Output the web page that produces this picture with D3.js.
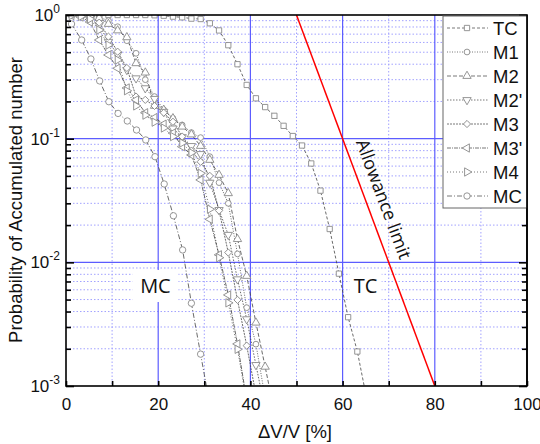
<!DOCTYPE html>
<html>
<head>
<meta charset="utf-8">
<script src="https://cdn.jsdelivr.net/npm/d3@7"></script>
<style>
body { margin: 0; background: #fff; }
text { font-family: "Liberation Sans", Arial, sans-serif; }
</style>
</head>
<body>
<svg></svg>
<script>
// --- data ---
const seriesNames = ['TC', 'M1', 'M2', "M2'", 'M3', "M3'", 'M4', 'MC'];

const tcX = [1.2, 3.2, 5.2, 7.2, 9.2, 11.2, 13.2, 15.2, 17.2, 19.2, 21.2, 23.2, 25.2, 27.2, 29.2, 31.2, 33.2, 35.2, 37.2, 39.2, 41.2, 43.2, 45.2, 47.2, 49.2, 51.2, 53.2, 55.2, 57.2, 59.2, 61.2, 63.2, 65.2];
const tcP = [1, 1, 1, 1, 1, 1, 1, 1, 1, 0.995, 0.987, 0.97, 0.958, 0.935, 0.928, 0.857, 0.75, 0.57, 0.40, 0.272, 0.212, 0.18, 0.153, 0.127, 0.105, 0.088, 0.063, 0.038, 0.0186, 0.0081, 0.0036, 0.0019, 0.0008];

const m1X = [1.2, 3.2, 5.2, 7.2, 9.2, 11.2, 13.2, 15.2, 17.2, 19.2, 21.2, 23.2, 25.2, 27.2, 29.2, 31.2, 33.2, 35.2, 37.2, 39.2, 41.2, 43.2];
const m1P = [0.995, 0.995, 0.991, 0.963, 0.899, 0.804, 0.62, 0.490, 0.30, 0.219, 0.171, 0.146, 0.129, 0.112, 0.102, 0.0715, 0.0441, 0.0300, 0.0117, 0.0043, 0.00218, 0.0008];

const m2X = [5.2, 7.2, 9.2, 11.2, 13.2, 15.2, 17.2, 19.2, 21.2, 23.2, 25.2, 27.2, 29.2, 31.2, 33.2, 35.2, 37.2, 39.2, 41.2, 43.2, 45.2];
const m2P = [0.991, 0.946, 0.846, 0.75, 0.66, 0.407, 0.342, 0.184, 0.171, 0.146, 0.125, 0.108, 0.0873, 0.0673, 0.0509, 0.0362, 0.0154, 0.00776, 0.00325, 0.00143, 0.00062];

const m2pX = [3.2, 5.2, 7.2, 9.2, 11.2, 13.2, 15.2, 17.2, 19.2, 21.2, 23.2, 25.2, 27.2, 29.2, 31.2, 33.2, 35.2, 37.2, 39.2, 41.2, 43.2];
const m2pP = [0.991, 0.928, 0.83, 0.608, 0.48, 0.36, 0.308, 0.256, 0.21, 0.165, 0.121, 0.103, 0.0873, 0.0752, 0.0441, 0.0265, 0.0167, 0.0073, 0.00347, 0.00148, 0.00064];

const m3X = [3.2, 5.2, 7.2, 9.2, 11.2, 13.2, 15.2, 17.2, 19.2, 21.2, 23.2, 25.2, 27.2, 29.2, 31.2, 33.2, 35.2, 37.2, 39.2, 41.2];
const m3P = [0.991, 0.972, 0.867, 0.668, 0.505, 0.373, 0.219, 0.206, 0.184, 0.162, 0.137, 0.104, 0.080, 0.065, 0.050, 0.0262, 0.0120, 0.00497, 0.00212, 0.00085];

const m3pX = [1.2, 3.2, 5.2, 7.2, 9.2, 11.2, 13.2, 15.2, 17.2, 19.2, 21.2, 23.2, 25.2, 27.2, 29.2, 31.2, 33.2, 35.2, 37.2, 39.2];
const m3pP = [0.991, 0.963, 0.878, 0.628, 0.475, 0.371, 0.257, 0.206, 0.162, 0.148, 0.131, 0.111, 0.0862, 0.0738, 0.0464, 0.0223, 0.0115, 0.00545, 0.00219, 0.00077];

const m4X = [1.2, 3.2, 5.2, 7.2, 9.2, 11.2, 13.2, 15.2, 17.2, 19.2, 21.2, 23.2, 25.2, 27.2, 29.2, 31.2, 33.2, 35.2, 37.2, 39.2];
const m4P = [0.991, 0.972, 0.928, 0.756, 0.572, 0.433, 0.244, 0.184, 0.155, 0.136, 0.122, 0.104, 0.0923, 0.0770, 0.0525, 0.0269, 0.0109, 0.0047, 0.00198, 0.00074];

const mcX = [1.2, 3.4, 5.4, 7.3, 9.3, 11.3, 13.3, 15.3, 17.3, 19.3, 21.3, 23.3, 25.3, 27.2, 29.2, 31.2];
const mcP = [0.846, 0.628, 0.441, 0.293, 0.199, 0.160, 0.139, 0.1175, 0.0976, 0.0715, 0.043, 0.0238, 0.0126, 0.00467, 0.00181, 0.0007];

const limitX = [50, 80];
const limitP = [1, 0.001];

const xTickValues = [0, 10, 20, 30, 40, 50, 60, 70, 80, 90, 100];
const xLabelValues = [0, 20, 40, 60, 80, 100];
const yMajor = [1e-3, 1e-2, 1e-1, 1];
const yExponents = ['-3', '-2', '-1', '0'];

// --- setup ---
const svg = d3.select('svg').attr('width', 540).attr('height', 444);
svg.append('rect').attr('width', 540).attr('height', 444).attr('fill', '#fff');

const x = d3.scaleLinear().domain([0, 100]).range([66, 527]);
const y = d3.scaleLog().domain([1e-3, 1]).range([386, 15]);

svg.append('clipPath').attr('id', 'plot')
  .append('rect').attr('x', 66).attr('y', 15).attr('width', 461).attr('height', 371);

const yMinor = y.ticks().filter(d => !yMajor.some(m => Math.abs(m - d) / m < 1e-6));

// grid
const grid = svg.append('g');
grid.selectAll('.xminor').data(xTickValues.filter(d => d % 20 !== 0 && d < 100))
  .enter().append('line')
  .attr('x1', d => x(d)).attr('x2', d => x(d)).attr('y1', 15).attr('y2', 386)
  .attr('stroke', '#a2a2ff').attr('stroke-width', 1).attr('stroke-dasharray', '1.5,2');
grid.selectAll('.yminor').data(yMinor)
  .enter().append('line')
  .attr('x1', 66).attr('x2', 527).attr('y1', d => y(d)).attr('y2', d => y(d))
  .attr('stroke', '#a2a2ff').attr('stroke-width', 1).attr('stroke-dasharray', '1.5,2');
grid.selectAll('.xmajor').data([20, 40, 60, 80])
  .enter().append('line')
  .attr('x1', d => x(d)).attr('x2', d => x(d)).attr('y1', 15).attr('y2', 386)
  .attr('stroke', '#5c5cff').attr('stroke-width', 1.2);
grid.selectAll('.ymajor').data([1e-2, 1e-1])
  .enter().append('line')
  .attr('x1', 66).attr('x2', 527).attr('y1', d => y(d)).attr('y2', d => y(d))
  .attr('stroke', '#5c5cff').attr('stroke-width', 1.2);

// series
const styles = [
  {x: tcX, p: tcP, sym: d3.symbolSquare, rot: 0, size: 28, dash: '3,2'},
  {x: m1X, p: m1P, sym: d3.symbolCircle, rot: 0, size: 26, dash: '1,1.5'},
  {x: m2X, p: m2P, sym: d3.symbolTriangle, rot: 0, size: 30, dash: '4,2'},
  {x: m2pX, p: m2pP, sym: d3.symbolTriangle, rot: 180, size: 30, dash: '1.5,1.5'},
  {x: m3X, p: m3P, sym: d3.symbolSquare, rot: 45, size: 26, dash: '2,1'},
  {x: m3pX, p: m3pP, sym: d3.symbolTriangle, rot: -90, size: 30, dash: '4,1,1,1'},
  {x: m4X, p: m4P, sym: d3.symbolTriangle, rot: 90, size: 30, dash: '1,2'},
  {x: mcX, p: mcP, sym: d3.symbolCircle, rot: 0, size: 32, dash: '5,2,1,2'}
];

const line = d3.line().x(d => x(d[0])).y(d => y(d[1]));
const plot = svg.append('g').attr('clip-path', 'url(#plot)');

styles.forEach((s, i) => {
  const pts = s.x.map((v, j) => [v, s.p[j]]);
  plot.append('path').datum(pts)
    .attr('d', line)
    .attr('fill', 'none')
    .attr('stroke', '#444')
    .attr('stroke-width', 0.8)
    .attr('stroke-dasharray', s.dash);
});
styles.forEach((s, i) => {
  const pts = s.x.map((v, j) => [v, s.p[j]]);
  plot.selectAll('.m' + i).data(pts)
    .enter().append('path')
    .attr('d', d3.symbol().type(s.sym).size(s.size))
    .attr('transform', d => `translate(${x(d[0])},${y(d[1])}) rotate(${s.rot})`)
    .attr('fill', '#fff')
    .attr('stroke', '#8a8a8a')
    .attr('stroke-width', 0.9);
});

// allowance limit
const lim = limitX.map((v, j) => [v, limitP[j]]);
plot.append('path').datum(lim).attr('d', line)
  .attr('fill', 'none').attr('stroke', '#f00').attr('stroke-width', 1.5);

// annotation boxes
function label(txt, cx, cy, w, h) {
  svg.append('rect').attr('x', cx - w / 2).attr('y', cy - h / 2)
    .attr('width', w).attr('height', h).attr('fill', '#fff');
  svg.append('text').attr('x', cx).attr('y', cy + 7)
    .attr('text-anchor', 'middle')
    .style('font-family', '"Open Sans", "Noto Sans", sans-serif')
    .style('font-size', '20px').attr('fill', '#111').text(txt);
}
label('MC', x(19.4), 286, 46, 32);
label('TC', x(65), 286, 32, 32);

// rotated label, parallel to the limit line and shifted to its right
const dx = x(limitX[1]) - x(limitX[0]), dy = y(limitP[1]) - y(limitP[0]);
const ang = Math.atan2(dy, dx);
const mid = [x(65.4), y(0.029)];
const off = 11;
svg.append('text')
  .attr('transform', `translate(${mid[0] + off * Math.sin(ang)},${mid[1] - off * Math.cos(ang)}) rotate(${ang * 180 / Math.PI})`)
  .attr('text-anchor', 'middle')
  .style('font-family', '"Open Sans", "Noto Sans", sans-serif')
  .style('font-size', '18px').attr('fill', '#111')
  .text('Allowance limit');

// axes
const axG = svg.append('g');
const bottom = axG.append('g').attr('transform', 'translate(0,386)')
  .call(d3.axisBottom(x).tickValues(xTickValues).tickSize(-5).tickPadding(12)
    .tickFormat(d => xLabelValues.includes(d) ? d : ''));
axG.append('g').attr('transform', 'translate(66,0)')
  .call(d3.axisLeft(y).tickValues(yMajor).tickSize(-8).tickFormat(''));
axG.append('g').attr('transform', 'translate(66,0)')
  .call(d3.axisLeft(y).tickValues(yMinor).tickSize(-5).tickFormat(''));
axG.append('g').attr('transform', 'translate(527,0)')
  .call(d3.axisRight(y).tickValues(yMajor).tickSize(-8).tickFormat(''));
axG.append('g').attr('transform', 'translate(527,0)')
  .call(d3.axisRight(y).tickValues(yMinor).tickSize(-5).tickFormat(''));
axG.selectAll('.domain').remove();
axG.selectAll('.tick line').attr('stroke', '#000').attr('stroke-width', 1.6);
bottom.selectAll('text').style('font-size', '17px').attr('fill', '#111')
  .style('font-family', '"Liberation Sans", Arial, sans-serif');

// y tick labels with exponents
yMajor.forEach((v, i) => {
  const t = svg.append('text').attr('x', 60).attr('y', y(v) + 6)
    .attr('text-anchor', 'end').style('font-size', '17px').attr('fill', '#111');
  t.append('tspan').text('10');
  t.append('tspan').attr('dy', -8).style('font-size', '12px').text(yExponents[i]);
});

// frame
svg.append('rect').attr('x', 66).attr('y', 15).attr('width', 461).attr('height', 371)
  .attr('fill', 'none').attr('stroke', '#000').attr('stroke-width', 1.6);

// legend
const lg = svg.append('g');
lg.append('rect').attr('x', 443).attr('y', 16).attr('width', 84).attr('height', 192)
  .attr('fill', '#fff').attr('stroke', '#666').attr('stroke-width', 1);
seriesNames.forEach((n, i) => {
  const s = styles[i];
  const ly = 28 + i * 24;
  lg.append('line').attr('x1', 447).attr('x2', 488).attr('y1', ly).attr('y2', ly)
    .attr('stroke', '#555').attr('stroke-width', 0.8).attr('stroke-dasharray', s.dash);
  lg.append('path')
    .attr('d', d3.symbol().type(s.sym).size(s.size))
    .attr('transform', `translate(467,${ly}) rotate(${s.rot})`)
    .attr('fill', '#fff').attr('stroke', '#8a8a8a').attr('stroke-width', 0.9);
  lg.append('text').attr('x', 493).attr('y', ly + 7)
    .style('font-size', '18.5px').attr('fill', '#111').text(n);
});
// right border over legend
svg.append('line').attr('x1', 527).attr('x2', 527).attr('y1', 15).attr('y2', 386)
  .attr('stroke', '#000').attr('stroke-width', 1.6);

// axis titles
svg.append('text').attr('x', 295).attr('y', 438).attr('text-anchor', 'middle')
  .style('font-size', '18.5px').attr('fill', '#111').text('\u0394V/V [%]');
svg.append('text').attr('transform', 'translate(22,200) rotate(-90)')
  .attr('text-anchor', 'middle').style('font-size', '18.5px').attr('fill', '#111')
  .text('Probability of Accumulated number');
</script>
</body>
</html>
